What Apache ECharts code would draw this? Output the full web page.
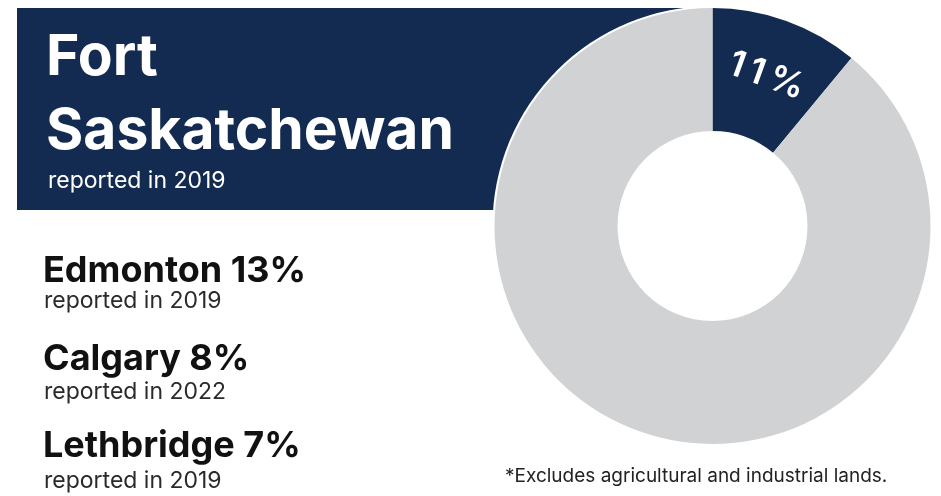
<!DOCTYPE html>
<html>
<head>
<meta charset="utf-8">
<script src="https://cdn.jsdelivr.net/npm/echarts@6/dist/echarts.min.js"></script>
<style>
  html, body { margin: 0; padding: 0; background: #ffffff; }
  #chart { width: 941px; height: 496px; }
</style>
</head>
<body>
<div id="chart"></div>
<script>
// Featured municipality and its share
const featuredName = ['Fort', 'Saskatchewan'];
const featuredYear = 2019;
const ringNames = ['Fort Saskatchewan', 'Remainder'];
const ringValues = [11, 89];

// Comparison municipalities
const cities = ['Edmonton', 'Calgary', 'Lethbridge'];
const cityValues = [13, 8, 7];
const cityYears = [2019, 2022, 2019];

const footnote = '*Excludes agricultural and industrial lands.';

const NAVY = '#142b51';
const GREY = '#d1d2d4';
const FONT = 'Inter, "Noto Sans", sans-serif';

const chart = echarts.init(document.getElementById('chart'), null, { renderer: 'canvas' });

// place text by its baseline (middle of em box sits ~0.3em above baseline)
function textAt(x, baseline, str, size, weight, color) {
  return {
    type: 'text',
    x: x,
    y: baseline - size * 0.3,
    z: 10,
    style: {
      text: str,
      font: weight + ' ' + size + 'px ' + FONT,
      fill: color,
      textAlign: 'left',
      textVerticalAlign: 'middle'
    }
  };
}

const graphics = [
  { type: 'rect', z: 0, shape: { x: 17, y: 8, width: 700, height: 202 }, style: { fill: NAVY } },
  { type: 'circle', z: 1, shape: { cx: 712.5, cy: 226, r: 220 }, style: { fill: '#ffffff' } },
  textAt(46, 74.5, featuredName[0], 57, 'bold', '#ffffff'),
  textAt(46, 149, featuredName[1], 57, 'bold', '#ffffff'),
  textAt(48, 188, 'reported in ' + featuredYear, 23, 'normal', '#ffffff')
];

const cityBaselines = [282, 370, 457];
const yearBaselines = [308, 399, 488];
cities.forEach(function (c, i) {
  graphics.push(textAt(43, cityBaselines[i], c + ' ' + cityValues[i] + '%', 36, 'bold', '#111111'));
  graphics.push(textAt(44, yearBaselines[i], 'reported in ' + cityYears[i], 23, 'normal', '#2a2a2a'));
});
graphics.push(textAt(505, 482, footnote, 19, 'normal', '#222222'));

chart.setOption({
  animation: false,
  graphic: { elements: graphics },
  series: [{
    type: 'pie',
    z: 5,
    center: [712.5, 226],
    radius: [95, 218],
    startAngle: 90,
    clockwise: true,
    silent: true,
    itemStyle: { borderWidth: 0 },
    labelLine: { show: false },
    data: ringNames.map(function (n, i) {
      return {
        name: n,
        value: ringValues[i],
        itemStyle: { color: i === 0 ? NAVY : GREY },
        label: i === 0 ? {
          show: true,
          position: 'inside',
          rotate: 'tangential',
          // spaced-out glyphs
          formatter: function (p) { return (p.value + '%').split('').join('\u2009'); },
          color: '#ffffff',
          fontFamily: 'Inter',
          fontWeight: 600,
          fontStyle: 'normal',
          fontSize: 36
        } : { show: false }
      };
    })
  }]
});
</script>
</body>
</html>
